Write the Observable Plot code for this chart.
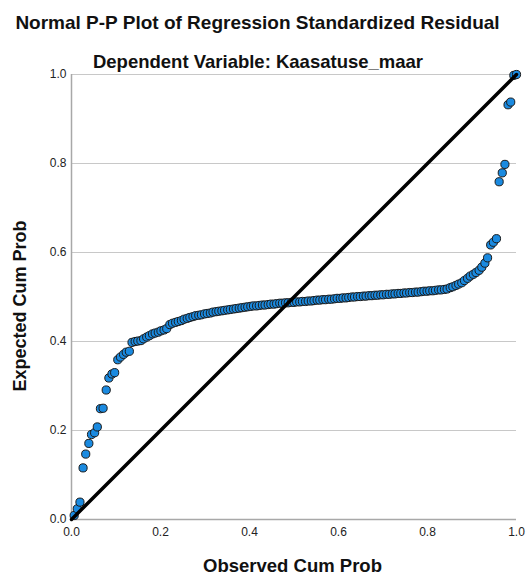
<!DOCTYPE html>
<html><head><meta charset="utf-8">
<script src="https://cdn.jsdelivr.net/npm/d3@7"></script>
<script src="https://cdn.jsdelivr.net/npm/@observablehq/plot@0.6"></script>
<style>body{margin:0;background:#fff} svg{display:block}</style>
</head><body><div id="chart"></div>
<script>
const titleText = "Normal P-P Plot of Regression Standardized Residual";
const subtitleText = "Dependent Variable: Kaasatuse_maar";
const xLabel = "Observed Cum Prob";
const yLabel = "Expected Cum Prob";
const tickValues = [0, 0.2, 0.4, 0.6, 0.8, 1.0];
const diagonal = [0, 1];

const observedCumProb = [
 .006,.013,.019,.026,.032,.039,.045,.052,.058,.065,.071,.078,.084,.091,.097,.104,.110,.117,.123,.130,
 .136,.143,.149,.156,.162,.169,.175,.182,.188,.195,.201,.208,.214,.221,.227,.234,.240,.247,.253,.260,
 .266,.273,.279,.286,.292,.299,.305,.312,.318,.325,.331,.338,.344,.351,.357,.364,.370,.377,.383,.390,
 .396,.403,.409,.416,.422,.429,.435,.442,.448,.455,.461,.468,.474,.481,.487,.494,.500,.506,.513,.519,
 .526,.532,.539,.545,.552,.558,.565,.571,.578,.584,.591,.597,.604,.610,.617,.623,.630,.636,.643,.649,
 .656,.662,.669,.675,.682,.688,.695,.701,.708,.714,.721,.727,.734,.740,.747,.753,.760,.766,.773,.779,
 .786,.792,.799,.805,.812,.818,.825,.831,.838,.844,.851,.857,.864,.870,.877,.883,.890,.896,.903,.909,
 .916,.922,.929,.935,.942,.948,.955,.961,.968,.974,.981,.987,.994,1.000
];
const expectedCumProb = [
 .009,.024,.039,.116,.147,.171,.191,.195,.208,.249,.250,.291,.318,.327,.330,.359,.365,.371,.376,.378,
 .398,.400,.401,.402,.406,.410,.413,.417,.419,.421,.424,.426,.429,.438,.441,.443,.445,.447,.450,.452,
 .454,.456,.458,.459,.460,.462,.463,.464,.466,.467,.468,.469,.470,.471,.472,.473,.474,.475,.476,.477,
 .478,.479,.480,.480,.481,.482,.482,.483,.484,.484,.485,.486,.486,.487,.487,.488,.488,.489,.489,.490,
 .490,.491,.491,.492,.493,.493,.494,.494,.495,.495,.496,.497,.497,.498,.498,.499,.500,.500,.501,.501,
 .502,.502,.503,.503,.504,.504,.505,.505,.506,.506,.507,.507,.508,.508,.509,.509,.510,.510,.511,.511,
 .512,.513,.513,.514,.514,.515,.516,.516,.517,.518,.521,.523,.526,.529,.532,.537,.542,.547,.551,.555,
 .560,.567,.576,.588,.617,.623,.631,.759,.779,.798,.932,.938,.998,1.000
];

const points = observedCumProb.map((x, i) => ({x, y: expectedCumProb[i]}));
const fmt = d3.format(".1f");
const font = "'Liberation Sans', Arial, sans-serif";

const chart = Plot.plot({
  width: 529, height: 579,
  marginTop: 74, marginBottom: 60, marginLeft: 71, marginRight: 13,
  style: {fontFamily: font, fontSize: "12px", color: "#222", background: "#fff"},
  x: {domain: [0, 1]},
  y: {domain: [0, 1]},
  marks: [
    Plot.gridY(tickValues.slice(1), {stroke: "#c8c8c8", strokeOpacity: 1, strokeWidth: 1}),
    Plot.ruleX([0], {stroke: "#a8a8a8", strokeWidth: 1.5}),
    Plot.ruleY([0], {stroke: "#a8a8a8", strokeWidth: 1.5}),
    Plot.axisY(tickValues, {tickSize: 0, tickPadding: 5, tickFormat: fmt, label: null, fontSize: 12}),
    Plot.axisX(tickValues, {tickSize: 0, tickPadding: 8, tickFormat: fmt, label: null, fontSize: 12}),
    Plot.dot(points, {x: "x", y: "y", r: 4.1, fill: "#1a8ae0", stroke: "#1b1b1b", strokeWidth: 1}),
    Plot.line(diagonal.map(v => ({v})), {x: "v", y: "v", stroke: "#000", strokeWidth: 3.5}),
    Plot.text([titleText], {frameAnchor: "top", lineAnchor: "middle", dx: -36.5, dy: -52, fontSize: 19, fontWeight: "bold", fill: "#111"}),
    Plot.text([subtitleText], {frameAnchor: "top", lineAnchor: "middle", dx: -36, dy: -12, fontSize: 18.5, fontWeight: "bold", fill: "#111"}),
    Plot.text([xLabel], {frameAnchor: "bottom", lineAnchor: "middle", dx: -1.5, dy: 47, fontSize: 18.5, fontWeight: "bold", fill: "#111"}),
    Plot.text([yLabel], {frameAnchor: "left", lineAnchor: "middle", textAnchor: "middle", dx: -51, dy: 9, rotate: -90, fontSize: 18, fontWeight: "bold", fill: "#111"})
  ]
});
document.getElementById("chart").append(chart);
</script>
</body></html>
